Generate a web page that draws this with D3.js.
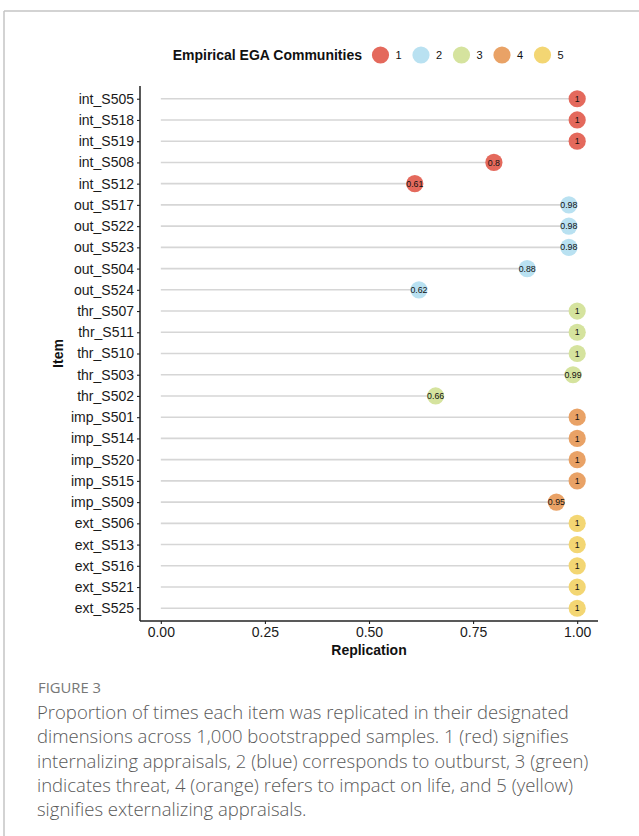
<!DOCTYPE html>
<html>
<head>
<meta charset="utf-8">
<script src="https://cdn.jsdelivr.net/npm/d3@7"></script>
<style>
  html, body { margin: 0; padding: 0; background: #fff; }
  svg { display: block; }
</style>
</head>
<body>
<svg id="fig" width="639" height="836"></svg>
<script>
// Items in plotting order (top to bottom)
const items = [
  "int_S505", "int_S518", "int_S519", "int_S508", "int_S512",
  "out_S517", "out_S522", "out_S523", "out_S504", "out_S524",
  "thr_S507", "thr_S511", "thr_S510", "thr_S503", "thr_S502",
  "imp_S501", "imp_S514", "imp_S520", "imp_S515", "imp_S509",
  "ext_S506", "ext_S513", "ext_S516", "ext_S521", "ext_S525"
];
// Replication proportion per item
const replication = [
  1, 1, 1, 0.8, 0.61,
  0.98, 0.98, 0.98, 0.88, 0.62,
  1, 1, 1, 0.99, 0.66,
  1, 1, 1, 1, 0.95,
  1, 1, 1, 1, 1
];
// Empirical EGA community of each item
const community = [
  1, 1, 1, 1, 1,
  2, 2, 2, 2, 2,
  3, 3, 3, 3, 3,
  4, 4, 4, 4, 4,
  5, 5, 5, 5, 5
];
const communities = [1, 2, 3, 4, 5];
const communityColors = ["#e4695c", "#b9e1f1", "#d5e39e", "#e9a266", "#f3d673"];
const xTicks = [0, 0.25, 0.5, 0.75, 1];

const captionHead = "FIGURE 3";
const captionLines = [
  "Proportion of times each item was replicated in their designated",
  "dimensions across 1,000 bootstrapped samples. 1 (red) signifies",
  "internalizing appraisals, 2 (blue) corresponds to outburst, 3 (green)",
  "indicates threat, 4 (orange) refers to impact on life, and 5 (yellow)",
  "signifies externalizing appraisals."
];

const data = items.map((d, i) => ({ item: d, value: replication[i], comm: community[i] }));

const svg = d3.select("#fig");
const font = "'Liberation Sans', Arial, Helvetica, sans-serif";

// Outer frame (left and top rules)
svg.append("line").attr("x1", 4).attr("x2", 639).attr("y1", 11).attr("y2", 11)
  .attr("stroke", "#c4c4c4").attr("stroke-width", 1.5);
svg.append("line").attr("x1", 4).attr("x2", 4).attr("y1", 11).attr("y2", 836)
  .attr("stroke", "#c4c4c4").attr("stroke-width", 1.5);

// Panel geometry
const panel = { left: 140, right: 598, top: 86, bottom: 621 };

const x = d3.scaleLinear().domain([-0.05, 1.05]).range([panel.left, panel.right]);
const y = d3.scalePoint().domain(items).range([panel.top, panel.bottom]).padding(0.6);
const color = d3.scaleOrdinal().domain(communities).range(communityColors);

const g = svg.append("g");

// Stems
g.selectAll("line.stem").data(data).join("line")
  .attr("class", "stem")
  .attr("x1", x(0)).attr("x2", d => x(d.value))
  .attr("y1", d => y(d.item)).attr("y2", d => y(d.item))
  .attr("stroke", "#d6d6d6").attr("stroke-width", 1.6);

// Points
g.selectAll("circle.pt").data(data).join("circle")
  .attr("class", "pt")
  .attr("cx", d => x(d.value)).attr("cy", d => y(d.item))
  .attr("r", 8.6)
  .attr("fill", d => color(d.comm));

// Value labels
g.selectAll("text.val").data(data).join("text")
  .attr("class", "val")
  .attr("x", d => x(d.value)).attr("y", d => y(d.item))
  .attr("dy", "0.35em")
  .attr("text-anchor", "middle")
  .attr("font-family", font).attr("font-size", 8.8)
  .attr("fill", "#111")
  .text(d => d3.format("")(d.value));

// Y axis
const yAxis = svg.append("g")
  .attr("transform", `translate(${panel.left},0)`)
  .call(d3.axisLeft(y).tickSize(3).tickPadding(3));
yAxis.select(".domain").attr("d", `M0,${panel.top}V${panel.bottom}`)
  .attr("stroke", "#222").attr("stroke-width", 1.5);
yAxis.selectAll(".tick line").attr("stroke", "#222").attr("stroke-width", 1.1);
yAxis.selectAll(".tick text").attr("font-family", font).attr("font-size", 14).attr("fill", "#1a1a1a");

// X axis
const xAxis = svg.append("g")
  .attr("transform", `translate(0,${panel.bottom})`)
  .call(d3.axisBottom(x).tickValues(xTicks).tickFormat(d3.format(".2f")).tickSize(3).tickPadding(3));
xAxis.select(".domain").attr("d", `M${panel.left},0H${panel.right}`)
  .attr("stroke", "#222").attr("stroke-width", 1.5);
xAxis.selectAll(".tick line").attr("stroke", "#222").attr("stroke-width", 1.1);
xAxis.selectAll(".tick text").attr("font-family", font).attr("font-size", 14).attr("fill", "#1a1a1a");

// Axis titles
svg.append("text")
  .attr("x", x(0.5)).attr("y", 655)
  .attr("text-anchor", "middle")
  .attr("font-family", font).attr("font-size", 14).attr("font-weight", "bold")
  .attr("fill", "#111")
  .text("Replication");
svg.append("text")
  .attr("transform", `translate(63,${(panel.top + panel.bottom) / 2}) rotate(-90)`)
  .attr("text-anchor", "middle")
  .attr("font-family", font).attr("font-size", 14).attr("font-weight", "bold")
  .attr("fill", "#111")
  .text("Item");

// Legend
const legend = svg.append("g").attr("transform", "translate(0,55)");
legend.append("text")
  .attr("x", 362).attr("y", 0).attr("dy", "0.35em")
  .attr("text-anchor", "end")
  .attr("font-family", font).attr("font-size", 14).attr("font-weight", "bold")
  .attr("fill", "#111")
  .text("Empirical EGA Communities");
const keys = legend.selectAll("g.key").data(communities).join("g")
  .attr("class", "key")
  .attr("transform", (d, i) => `translate(${380.5 + i * 40.5},0)`);
keys.append("circle").attr("r", 8.6).attr("fill", d => color(d));
keys.append("text")
  .attr("x", 18).attr("dy", "0.35em")
  .attr("text-anchor", "middle")
  .attr("font-family", font).attr("font-size", 11)
  .attr("fill", "#111")
  .text(d => d);

// Caption
const capFont = "'Open Sans', 'Noto Sans', sans-serif";
svg.append("text")
  .attr("x", 38).attr("y", 693)
  .attr("font-family", capFont).attr("font-size", 14.8)
  .attr("fill", "#777")
  .text(captionHead);
svg.append("g").selectAll("text").data(captionLines).join("text")
  .attr("x", 37).attr("y", (d, i) => 719 + i * 24.3)
  .attr("font-family", capFont).attr("font-size", 18.5).attr("font-weight", 300)
  .attr("fill", "#595959")
  .text(d => d);
</script>
</body>
</html>
